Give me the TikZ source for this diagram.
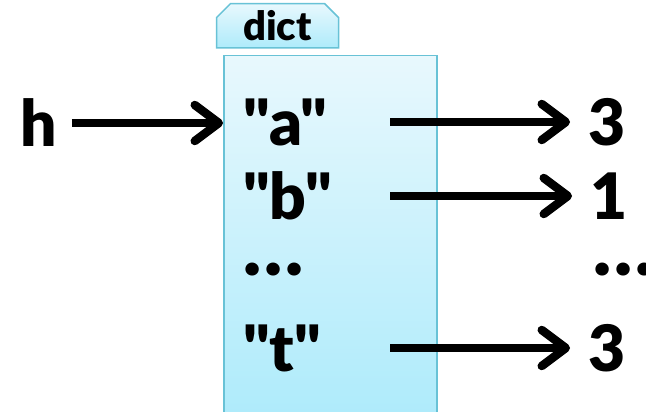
\documentclass[tikz,border=0pt]{standalone}
\usepackage{fontspec}
\setmainfont{Lato}[BoldFont={Lato Black}, Ligatures=TeXOff]
\usetikzlibrary{arrows.meta,shapes.misc}
\definecolor{boxtop}{HTML}{E8F8FD}
\definecolor{boxbot}{HTML}{AEEBFB}
\definecolor{boxline}{HTML}{68C2D6}
\tikzset{
	big/.style={inner sep=0pt, anchor=west, font=\fontsize{64}{64}\selectfont\bfseries},
	dots/.style={big, font=\fontsize{76}{64}\selectfont\bfseries},
	ptr/.style={line width=8.5pt, -{Straight Barb[length=24pt,width=36pt,line cap=round,line join=round]}}
}
\begin{document}
\begin{tikzpicture}[x=1pt,y=-1pt]
	\useasboundingbox (0,0) rectangle (646,412);
	\pgfmathsetmacro{\W}{213}
	\pgfmathsetmacro{\H}{362}
	% the dict object
	\node[draw=boxline, line width=1.5pt, top color=boxtop, bottom color=boxbot, minimum width=\W pt, minimum height=\H pt, anchor=north west] (store) at (223,55) {};
	\node[draw=boxline, line width=1.5pt, top color=boxtop, bottom color=boxbot, chamfered rectangle, chamfered rectangle corners={north west,north east}, chamfered rectangle sep=7pt, minimum width=122pt, minimum height=38pt, inner sep=0pt, anchor=north west, font=\fontsize{40}{40}\selectfont\bfseries] (tab) at (223,10) {dict};
	% keys and values
	\node[big] (h) at (20,123) {h};
	\node[big] (ka) at (243,122) {"a"};
	\node[big] (kb) at (243,196) {"b"};
	\node[dots] (kd) at (243,270) {\dots};
	\node[big] (kt) at (243,348) {"t"};
	\node[big] (va) at (588,122) {3};
	\node[big] (vb) at (590,196) {1};
	\node[dots] (vd) at (593,270) {\dots};
	\node[big] (vt) at (588,348) {3};
	\coordinate (tail) at (390,0);
	\draw[ptr, shorten <=15pt] (h) -- (store.west |- h);
	\foreach \k/\v in {ka/va, kb/vb, kt/vt}
		\draw[ptr, shorten >=18pt] (tail |- \k) -- (\v);
\end{tikzpicture}
\end{document}
